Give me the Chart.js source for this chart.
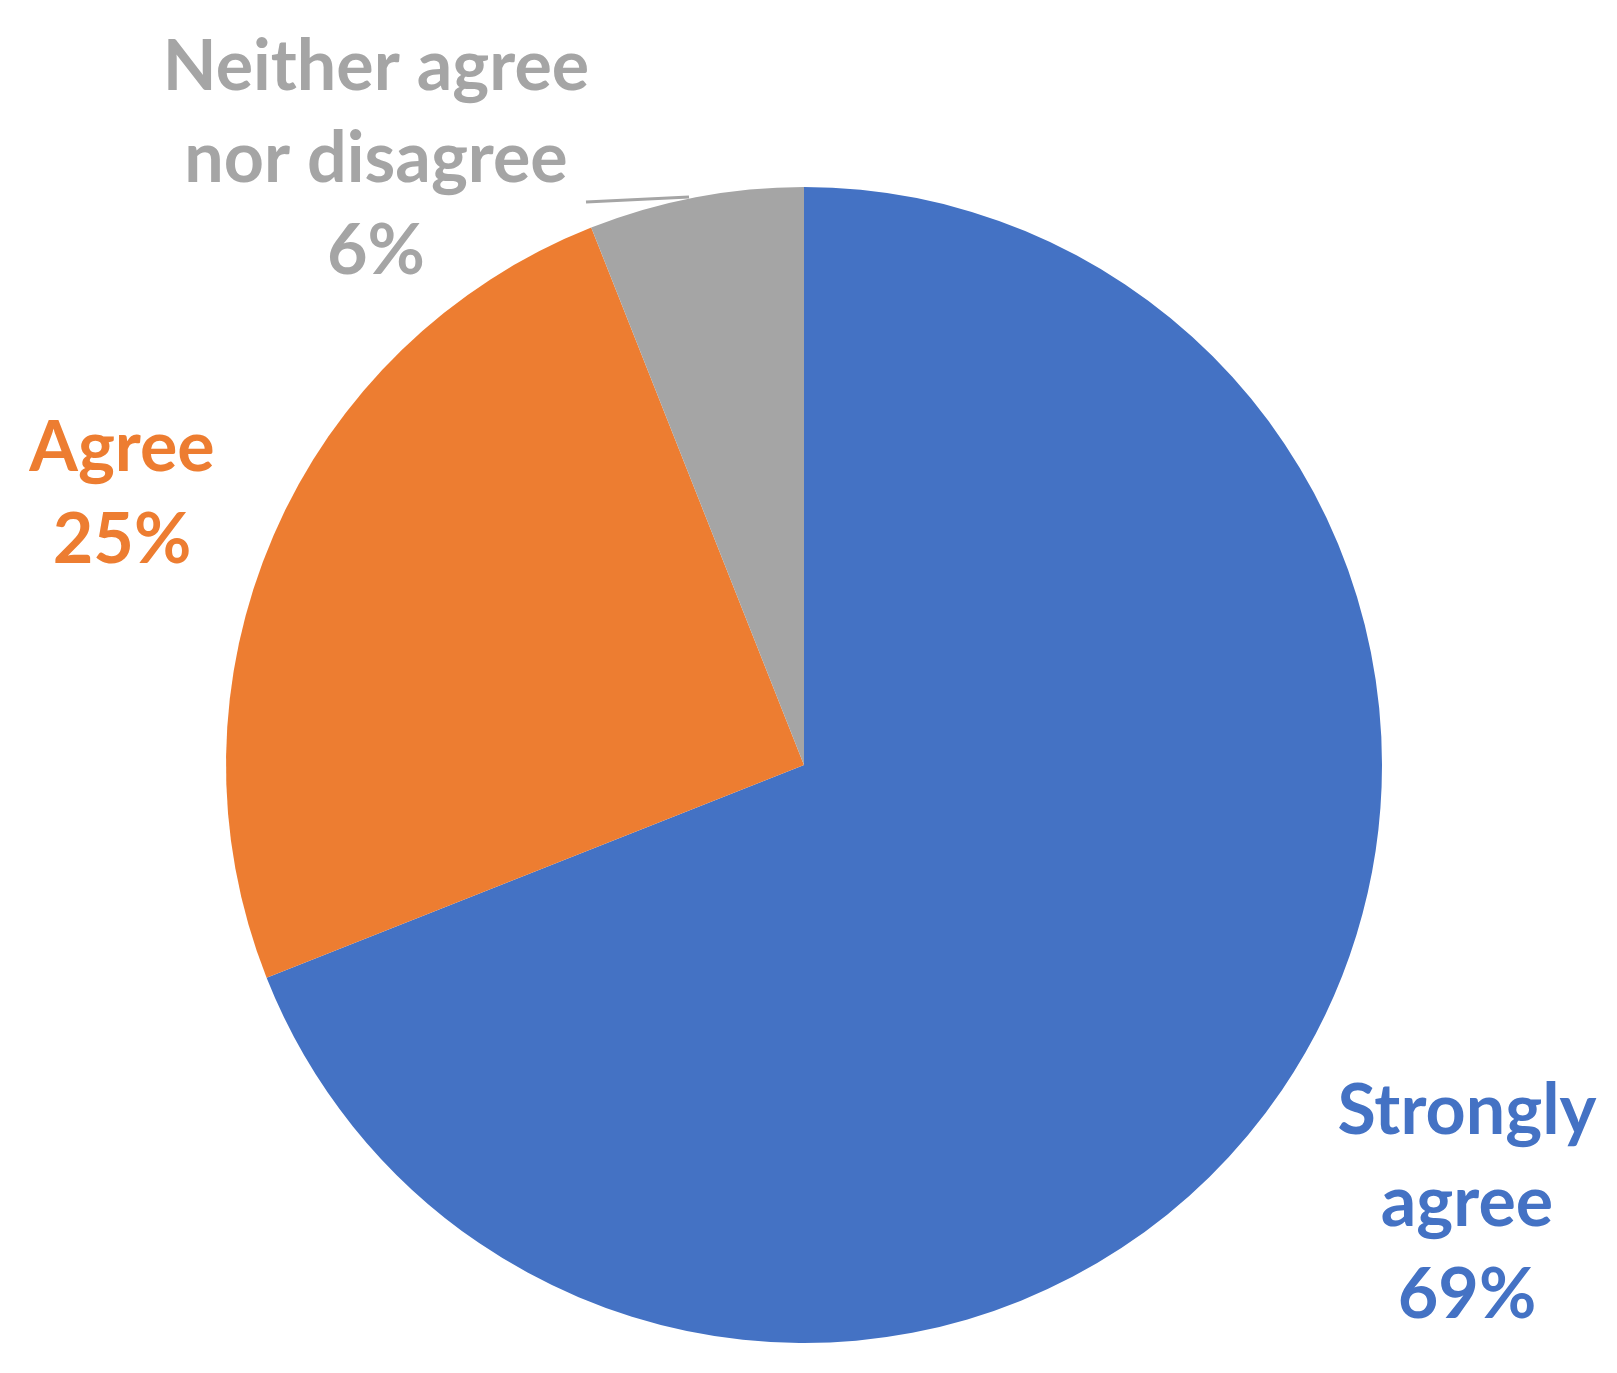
<!DOCTYPE html>
<html>
<head>
<meta charset="utf-8">
<script src="https://cdn.jsdelivr.net/npm/chart.js@4/dist/chart.umd.min.js"></script>
<style>
  html, body { margin: 0; padding: 0; background: #fff; }
  #wrap { width: 1617px; height: 1373px; }
</style>
</head>
<body>
<div id="wrap"><canvas id="pie"></canvas></div>
<script>
const labels = ['Strongly agree', 'Agree', 'Neither agree nor disagree'];
const values = [69, 25, 6];
const colors = ['#4472C4', '#ED7D31', '#A5A5A5'];
const labelColors = ['#4472C4', '#ED7D31', '#A5A5A5'];

// label text lines and their centre positions (canvas pixels)
const labelLines = [
    ['Strongly', 'agree', '69%'],
    ['Agree', '25%'],
    ['Neither agree', 'nor disagree', '6%']
];
const labelPos = [[1467, 1111], [122, 448], [376, 67]];

const outsideLabels = {
    id: 'outsideLabels',
    afterDraw(chart) {
        const ctx = chart.ctx;
        ctx.save();
        // leader line for the small slice
        ctx.strokeStyle = '#A5A5A5';
        ctx.lineWidth = 3;
        ctx.beginPath();
        ctx.moveTo(586, 202);
        ctx.lineTo(689, 197);
        ctx.stroke();

        ctx.font = 'bold 70px Lato, "Open Sans", sans-serif';
        ctx.textAlign = 'center';
        ctx.textBaseline = 'middle';
        labelLines.forEach((lines, i) => {
            ctx.fillStyle = labelColors[i];
            lines.forEach((t, j) => {
                ctx.fillText(t, labelPos[i][0], labelPos[i][1] + j * 92);
            });
        });
        ctx.restore();
    }
};

new Chart(document.getElementById('pie'), {
    type: 'pie',
    data: {
        labels: labels,
        datasets: [{
            data: values,
            backgroundColor: colors,
            borderWidth: 0
        }]
    },
    options: {
        responsive: true,
        maintainAspectRatio: false,
        animation: false,
        layout: { padding: { left: 226, right: 235, top: 187, bottom: 30 } },
        plugins: {
            legend: { display: false },
            tooltip: { enabled: false }
        }
    },
    plugins: [outsideLabels]
});
</script>
</body>
</html>
